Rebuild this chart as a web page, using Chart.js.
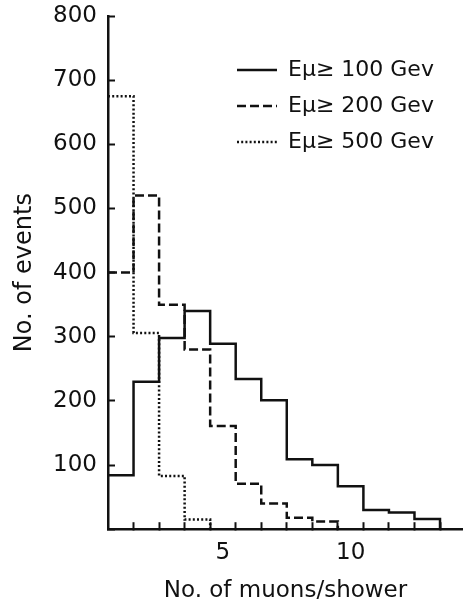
<!DOCTYPE html>
<html>
<head>
<meta charset="utf-8">
<script src="https://cdn.jsdelivr.net/npm/chart.js@4.4.1/dist/chart.umd.min.js"></script>
<style>
  html, body { margin: 0; padding: 0; background: #fff; }
  canvas { display: block; }
</style>
</head>
<body>
<canvas id="hist" width="463" height="608"></canvas>
<script>
// bins are one muon wide, centred on the integers
const binCenters = [1, 2, 3, 4, 5, 6, 7, 8, 9, 10, 11, 12, 13];
const eventsAbove100 = [84, 230, 298, 340, 289, 234, 201, 109, 100, 67, 30, 26, 16];
const eventsAbove200 = [400, 520, 350, 280, 161, 71, 40, 18, 12];
const eventsAbove500 = [675, 306, 83, 15];
const seriesLabels = ["Eμ≥ 100 Gev", "Eμ≥ 200 Gev", "Eμ≥ 500 Gev"];
const xLabelTicks = [5, 10];
const xEdgeTicks = [1.5, 2.5, 3.5, 4.5, 5.5, 6.5, 7.5, 8.5, 9.5, 10.5, 11.5, 12.5, 13.5];

const ink = "#111";
const font = "'DejaVu Sans', sans-serif";

// left edge of every bin, then close the outline back down to zero
function steps(values) {
  const pts = values.map((v, i) => ({ x: binCenters[i] - 0.5, y: v }));
  const end = binCenters[values.length - 1] + 0.5;
  pts.push({ x: end, y: values[values.length - 1] }, { x: end, y: 0 });
  return pts;
}

function line(label, values, width, dash) {
  return {
    label,
    data: steps(values),
    stepped: true,
    borderColor: ink,
    backgroundColor: "rgba(0,0,0,0)",
    borderWidth: width,
    borderDash: dash,
    borderCapStyle: "butt",
    pointRadius: 0,
    fill: false
  };
}

// put the legend block in the empty upper right part of the plot
const legendSpot = {
  id: "legendSpot",
  afterLayout(chart) {
    const lg = chart.legend;
    lg.left = 223;
    lg.top = 45;
    lg.right = lg.left + lg.width;
    lg.bottom = lg.top + lg.height;
  }
};

// the tick padding would otherwise push the plot area in from the edges
function noEdgePadding(scale) {
  scale.paddingTop = 0;
  scale.paddingBottom = 0;
  scale.paddingLeft = 0;
  scale.paddingRight = 0;
}

new Chart(document.getElementById("hist"), {
  type: "line",
  data: {
    datasets: [
      line(seriesLabels[0], eventsAbove100, 2.5, []),
      line(seriesLabels[1], eventsAbove200, 2.5, [9, 4]),
      line(seriesLabels[2], eventsAbove500, 2.5, [2, 2.2])
    ]
  },
  options: {
    responsive: false,
    animation: false,
    layout: { padding: { top: 16, right: 0, bottom: 0, left: 0 } },
    plugins: {
      tooltip: { enabled: false },
      legend: {
        position: "chartArea",
        align: "start",
        labels: {
          usePointStyle: true,
          pointStyle: "line",
          pointStyleWidth: 40,
          boxHeight: 10,
          padding: 14,
          color: ink,
          font: { family: font, size: 22 },
          generateLabels(chart) {
            const items = Chart.defaults.plugins.legend.labels.generateLabels(chart);
            items.forEach(it => {
              const ds = chart.data.datasets[it.datasetIndex];
              it.lineDash = ds.borderDash;
              it.lineWidth = ds.borderWidth;
              it.strokeStyle = ink;
              it.lineCap = "butt";
            });
            return items;
          }
        }
      }
    },
    scales: {
      x: {
        type: "linear",
        min: 0.5,
        max: 14.4,
        afterBuildTicks(scale) {
          scale.ticks = [...xEdgeTicks, ...xLabelTicks]
            .sort((a, b) => a - b)
            .map(v => ({ value: v }));
        },
        afterFit: noEdgePadding,
        ticks: {
          autoSkip: false,
          maxRotation: 0,
          padding: 19.5,
          color: ink,
          font: { family: font, size: 23, lineHeight: 1 },
          callback: v => (xLabelTicks.includes(v) ? String(v) : "")
        },
        grid: {
          drawOnChartArea: false,
          tickLength: -7,
          tickWidth: 2,
          tickColor: c => (c.tick && xLabelTicks.includes(c.tick.value) ? "rgba(0,0,0,0)" : ink)
        },
        border: { color: ink, width: 2.5 },
        title: {
          display: true,
          text: "No. of muons/shower",
          color: ink,
          font: { family: font, size: 23, lineHeight: 0.6 },
          padding: { top: 0, bottom: 10 }
        }
      },
      y: {
        min: 0,
        max: 800,
        afterFit: noEdgePadding,
        ticks: {
          stepSize: 100,
          padding: 18,
          color: ink,
          font: { family: font, size: 23, lineHeight: 1 },
          callback: v => (v === 0 ? "" : String(v))
        },
        grid: {
          drawOnChartArea: false,
          tickLength: -7,
          tickWidth: 2,
          tickColor: ink
        },
        border: { color: ink, width: 2.5 },
        title: {
          display: true,
          text: "No. of events",
          color: ink,
          font: { family: font, size: 24, lineHeight: 0.7 },
          padding: { top: 16.6, bottom: 1.7 }
        }
      }
    }
  },
  plugins: [legendSpot]
});
</script>
</body>
</html>
